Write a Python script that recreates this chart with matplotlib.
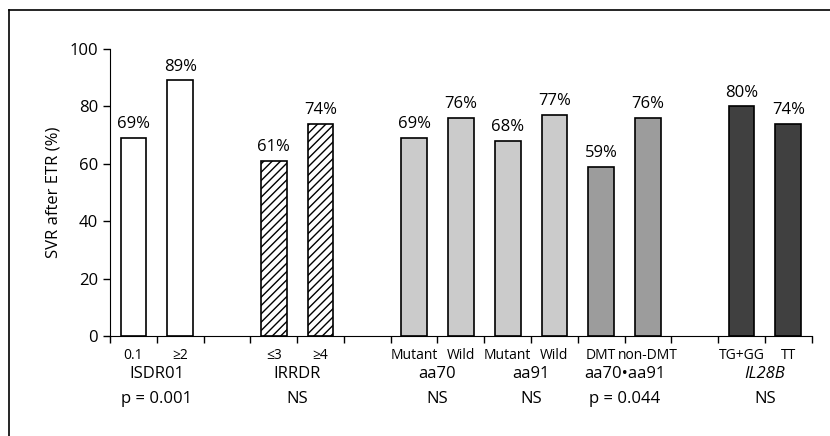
import matplotlib.pyplot as plt
from matplotlib.lines import Line2D

# SVR rates per subgroup
categories = ["0.1", "≥2", "≤3", "≥4", "Mutant", "Wild", "Mutant", "Wild",
              "DMT", "non-DMT", "TG+GG", "TT"]
values = [69, 89, 61, 74, 69, 76, 68, 77, 59, 76, 80, 74]
slots = [0, 1, 3, 4, 6, 7, 8, 9, 10, 11, 13, 14]
groups = ["ISDR01", "IRRDR", "aa70", "aa91", "aa70•aa91", "IL28B"]
group_stats = ["p = 0.001", "NS", "NS", "NS", "p = 0.044", "NS"]
group_centers = [1, 4, 7, 9, 11, 14]

fills = ["white", "white", "white", "white", "#cbcbcb", "#cbcbcb", "#cbcbcb", "#cbcbcb",
         "#9c9c9c", "#9c9c9c", "#404040", "#404040"]
hatches = [None, None, "////", "////", None, None, None, None, None, None, None, None]

plt.rcParams['font.family'] = ['Open Sans', 'DejaVu Sans']

fig = plt.figure(figsize=(8.3, 4.36), dpi=100)
ax = fig.add_axes([0.1325, 0.229, 0.8455, 0.659])

xs = [s + 0.5 for s in slots]
for x, v, c, h in zip(xs, values, fills, hatches):
    ax.bar(x, v, width=0.55, color=c, edgecolor="black", linewidth=1.2, hatch=h)
    ax.text(x, v + 2, f"{v}%", ha="center", va="bottom", fontsize=12)

ax.set_xlim(0, 15)
ax.set_ylim(0, 100)
ax.set_yticks([0, 20, 40, 60, 80, 100])
ax.tick_params(axis="y", labelsize=12, length=5, width=1, direction="out")
ax.set_xticks(range(16))
ax.set_xticklabels([])
ax.tick_params(axis="x", length=5, width=1, direction="out")
ax.spines["top"].set_visible(False)
ax.spines["right"].set_visible(False)
ax.set_ylabel("SVR after ETR (%)", fontsize=12, labelpad=6)

trans = ax.get_xaxis_transform()
for x, lab in zip(xs, categories):
    ax.text(x, -0.04, lab, transform=trans, ha="center", va="top", fontsize=10)
for gx, g, st in zip(group_centers, groups, group_stats):
    style = "italic" if g == "IL28B" else "normal"
    ax.text(gx, -0.105, g, transform=trans, ha="center", va="top", fontsize=12, style=style)
    ax.text(gx, -0.19, st, transform=trans, ha="center", va="top", fontsize=12)

# outer frame (left and top edges)
fig.add_artist(Line2D([9 / 830, 9 / 830], [0, 1 - 10 / 436], color="black", linewidth=1.2))
fig.add_artist(Line2D([9 / 830, 1], [1 - 10 / 436, 1 - 10 / 436], color="black", linewidth=1.2))

fig.savefig("out.png", dpi=100)
